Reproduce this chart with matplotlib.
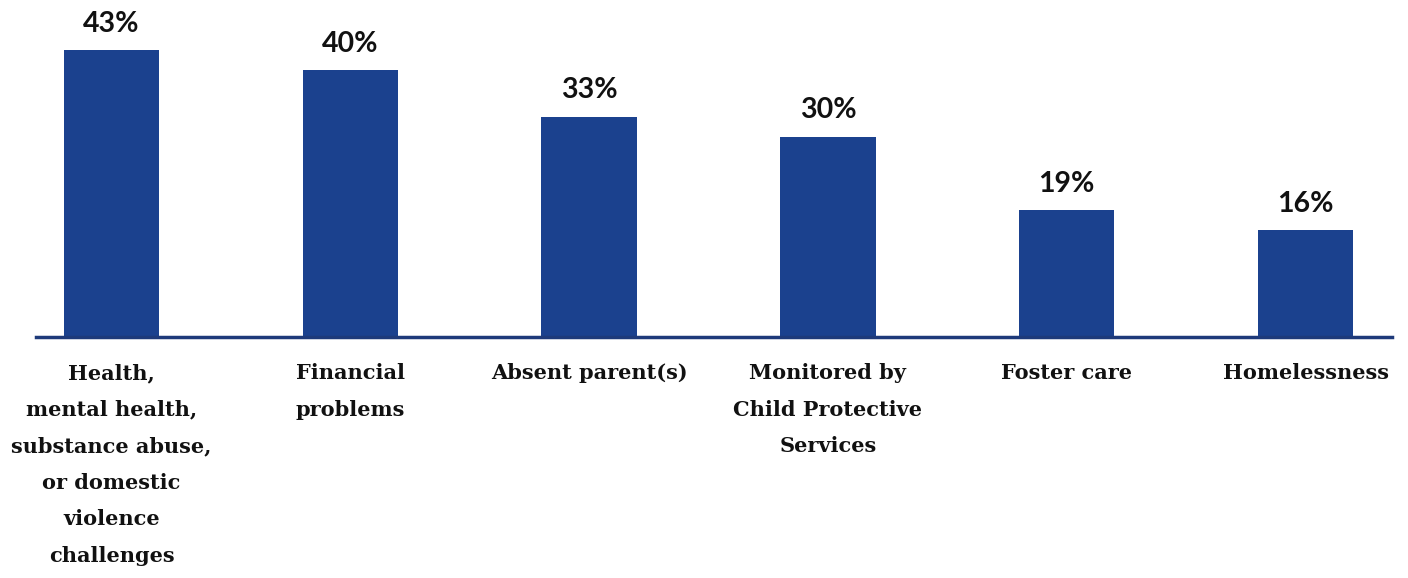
import matplotlib
matplotlib.use("Agg")
import matplotlib.pyplot as plt

categories = [
    "Health,\nmental health,\nsubstance abuse,\nor domestic\nviolence\nchallenges",
    "Financial\nproblems",
    "Absent parent(s)",
    "Monitored by\nChild Protective\nServices",
    "Foster care",
    "Homelessness",
]
values = [43, 40, 33, 30, 19, 16]
value_labels = ["43%", "40%", "33%", "30%", "19%", "16%"]

bar_color = "#1b418e"
line_color = "#1e3a7a"

fig = plt.figure(figsize=(14.08, 5.78), dpi=100)
ax = fig.add_axes([36 / 1408, 241 / 578, (1392 - 36) / 1408, 337 / 578])

x = range(len(values))
ax.bar(x, values, width=0.4, color=bar_color, zorder=2)

for xi, v, lab in zip(x, values, value_labels):
    ax.text(xi, v + 2.0, lab, ha="center", va="bottom", fontsize=20.5,
            fontfamily="Lato", fontweight="bold", color="#111111")

ax.set_xlim(-0.316, 5.362)
ax.set_ylim(0, 50.5)

ax.set_xticks(list(x))
ax.set_xticklabels(categories, fontfamily="DejaVu Serif", fontweight="bold",
                   fontsize=15, color="#111111", linespacing=2.03)
ax.tick_params(axis="x", length=0, pad=19)
ax.set_yticks([])

for s in ["top", "right", "left"]:
    ax.spines[s].set_visible(False)
ax.spines["bottom"].set_color(line_color)
ax.spines["bottom"].set_linewidth(2.5)
ax.spines["bottom"].set_zorder(3)

fig.savefig("out.png", dpi=100)
